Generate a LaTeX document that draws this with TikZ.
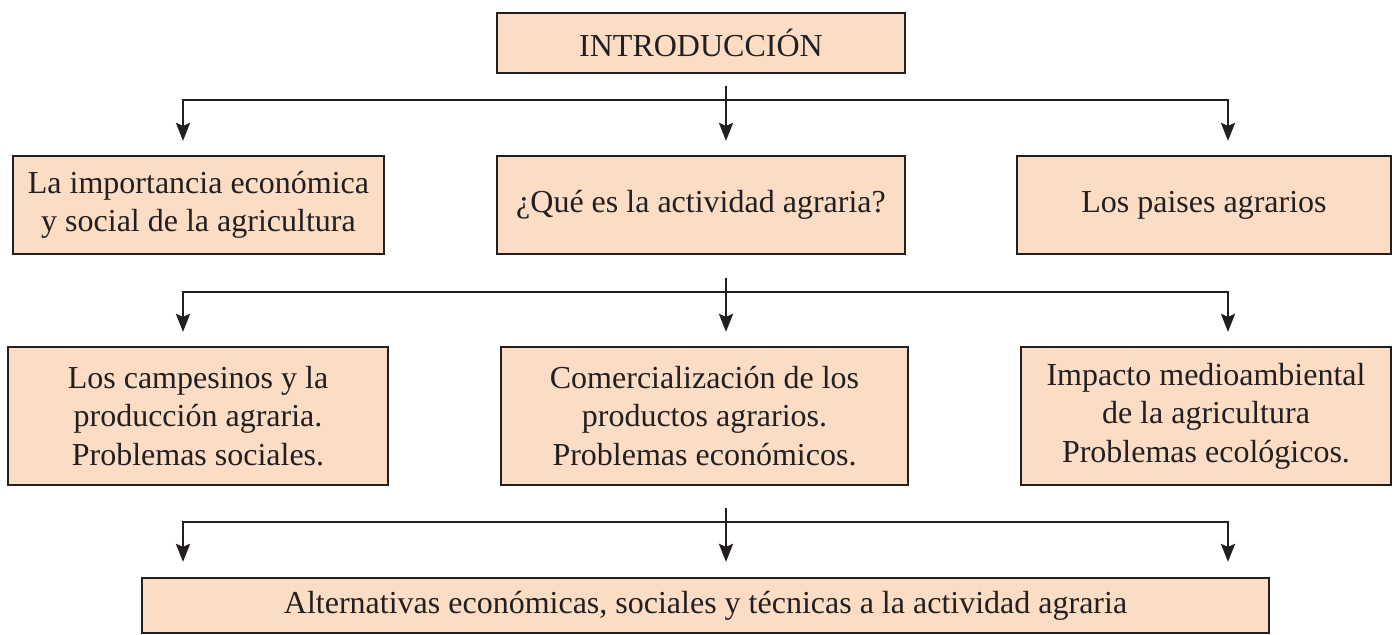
\documentclass[tikz,border=0pt]{standalone}
\usepackage{fontspec}
\setmainfont{Liberation Serif}
\usetikzlibrary{arrows.meta,calc}
\definecolor{peach}{HTML}{FBDCC5}
\definecolor{ink}{HTML}{231F20}
\begin{document}
\begin{tikzpicture}[x=0.5pt,y=-0.5pt,
  box/.style={draw=ink,fill=peach,line width=1.1pt,inner sep=0pt,align=center,
    text=ink,font=\fontsize{16}{19.25}\selectfont},
  conn/.style={draw=ink,line width=1.3pt},
  arr/.style={conn,-{Stealth[length=9pt,width=7pt,inset=1.5pt]}}]
\useasboundingbox (0,0) rectangle (1392,634);
% boxes
\node[box,minimum width=204pt,minimum height=30pt] (top) at (701,43) {INTRODUCCIÓN};
\node[box,minimum width=185.5pt,minimum height=49pt] (r2a) at (198.5,205) {La importancia económica\\y social de la agricultura};
\node[box,minimum width=204pt,minimum height=49pt] (r2b) at (701,205) {¿Qué es la actividad agraria?};
\node[box,minimum width=187pt,minimum height=49pt] (r2c) at (1204,205) {Los paises agrarios};
\node[box,minimum width=190pt,minimum height=69pt] (r3a) at (198,416) {Los campesinos y la\\producción agraria.\\Problemas sociales.};
\node[box,minimum width=203.5pt,minimum height=69pt] (r3b) at (704.5,416) {Comercialización de los\\productos agrarios.\\Problemas económicos.};
\node[box,minimum width=185pt,minimum height=69pt] (r3c) at (1206,416) {Impacto medioambiental\\de la agricultura\\Problemas ecológicos.};
\node[box,minimum width=563.5pt,minimum height=27.5pt] (bot) at (705.5,605.5) {Alternativas económicas, sociales y técnicas a la actividad agraria};
% columns for the arrows
\coordinate (L) at (183,0);
\coordinate (M) at (726,0);
\coordinate (R) at (1228,0);
% junction lines
\coordinate (h1) at (726,100);
\coordinate (h2) at (726,292);
\coordinate (h3) at (726,522);
% connector 1
\draw[arr] ($(top.south -| M)+(0,12)$) -- ($(r2b.north -| M)+(0,-14)$);
\draw[arr] (h1) -| ($(r2a.north -| L)+(0,-14)$);
\draw[arr] (h1) -| ($(r2c.north -| R)+(0,-14)$);
% connector 2
\draw[arr] ($(r2b.south -| M)+(0,23)$) -- ($(r3b.north -| M)+(0,-14)$);
\draw[arr] (h2) -| ($(r3a.north -| L)+(0,-14)$);
\draw[arr] (h2) -| ($(r3c.north -| R)+(0,-14)$);
% connector 3
\draw[arr] ($(r3b.south -| M)+(0,22)$) -- ($(bot.north -| M)+(0,-15)$);
\draw[arr] (h3) -| ($(bot.north -| L)+(0,-15)$);
\draw[arr] (h3) -| ($(bot.north -| R)+(0,-15)$);
\end{tikzpicture}
\end{document}
